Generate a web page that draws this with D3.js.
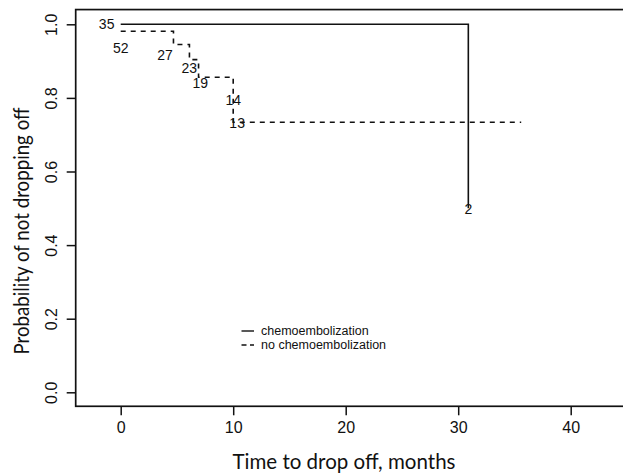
<!DOCTYPE html>
<html>
<head>
<meta charset="utf-8">
<script src="https://cdn.jsdelivr.net/npm/d3@7"></script>
<style>
  body { margin: 0; background: #fff; }
  svg { display: block; }
</style>
</head>
<body>
<svg id="chart" width="623" height="473"></svg>
<script>
// ---- data ----
const chemoTimes = [0, 30.9, 30.9];
const chemoSurv = [1.0, 1.0, 0.5];

const noChemoTimes = [0, 4.69, 6.11, 6.92, 10.0, 10.0, 35.6];
const noChemoSurv = [0.981, 0.945, 0.904, 0.856, 0.797, 0.734, 0.734];

const riskLabels = ["35", "52", "27", "23", "19", "14", "13", "2"];
const riskLabelTimes = [-1.25, 0.0, 3.94, 6.09, 7.07, 10.0, 10.35, 30.9];
const riskLabelSurv = [1.0, 0.935, 0.917, 0.881, 0.841, 0.794, 0.733, 0.498];

const xTicks = [0, 10, 20, 30, 40];
const yTicks = [0.0, 0.2, 0.4, 0.6, 0.8, 1.0];
const legendLabels = ["chemoembolization", "no chemoembolization"];
const xTitle = "Time to drop off, months";
const yTitle = "Probability of not dropping off";

// ---- scales ----
const x = d3.scaleLinear().domain([0, 40]).range([120.7, 570.7]);
const y = d3.scaleLinear().domain([0, 1]).range([392.3, 24.3]);
const xLeft = -4.0, yBottom = -0.038, yTop = 1.04;

const svg = d3.select("#chart");
const ink = "#111";

// plot box
svg.append("rect")
  .attr("x", x(xLeft)).attr("y", y(yTop))
  .attr("width", 640 - x(xLeft)).attr("height", y(yBottom) - y(yTop))
  .attr("fill", "none").attr("stroke", ink).attr("stroke-width", 1.7);

// axes
const xAxis = d3.axisBottom(x).tickValues(xTicks).tickSize(9).tickPadding(6).tickFormat(d3.format("d"));
const gx = svg.append("g").attr("transform", `translate(0,${y(yBottom)})`).call(xAxis);
gx.select(".domain").remove();
gx.selectAll("line").attr("stroke", ink).attr("stroke-width", 1.5);
gx.selectAll("text").attr("font-family", "Liberation Sans, Arial, sans-serif")
  .attr("font-size", 16).attr("fill", ink);

const yAxis = d3.axisLeft(y).tickValues(yTicks).tickSize(9).tickFormat(d3.format(".1f"));
const gy = svg.append("g").attr("transform", `translate(${x(xLeft)},0)`).call(yAxis);
gy.select(".domain").remove();
gy.selectAll("line").attr("stroke", ink).attr("stroke-width", 1.5);
gy.selectAll("text")
  .attr("font-family", "Liberation Sans, Arial, sans-serif")
  .attr("font-size", 16).attr("fill", ink)
  .attr("text-anchor", "middle")
  .attr("x", 0).attr("dy", 0)
  .attr("transform", "translate(-19,0) rotate(-90)");

// axis titles
svg.append("text").text(xTitle)
  .attr("x", 344).attr("y", 469)
  .attr("text-anchor", "middle")
  .attr("textLength", 223).attr("lengthAdjust", "spacingAndGlyphs")
  .attr("font-family", "Lato, 'Open Sans', sans-serif")
  .attr("font-size", 21).attr("fill", ink);

svg.append("text").text(yTitle)
  .attr("transform", "translate(29,231) rotate(-90)")
  .attr("text-anchor", "middle")
  .attr("textLength", 247).attr("lengthAdjust", "spacingAndGlyphs")
  .attr("font-family", "Lato, 'Open Sans', sans-serif")
  .attr("font-size", 21).attr("fill", ink);

// curves
const step = d3.line().x(d => x(d[0])).y(d => y(d[1])).curve(d3.curveStepAfter);
const chemoPts = chemoTimes.map((t, i) => [t, chemoSurv[i]]);
const noChemoPts = noChemoTimes.map((t, i) => [t, noChemoSurv[i]]);

svg.append("path").attr("d", step(chemoPts))
  .attr("fill", "none").attr("stroke", ink).attr("stroke-width", 1.6);
svg.append("path").attr("d", step(noChemoPts))
  .attr("fill", "none").attr("stroke", ink).attr("stroke-width", 1.6)
  .attr("stroke-dasharray", "5,5");

// number-at-risk labels
svg.append("g").selectAll("text").data(riskLabels).join("text")
  .text(d => d)
  .attr("x", (d, i) => x(riskLabelTimes[i]))
  .attr("y", (d, i) => y(riskLabelSurv[i]))
  .attr("dy", "0.36em")
  .attr("text-anchor", "middle")
  .attr("font-family", "Liberation Sans, Arial, sans-serif")
  .attr("font-size", 14).attr("fill", ink);

// legend
const legX0 = 241.5, legX1 = 254, legTextX = 261, legY0 = 331, legDy = 14;
const leg = svg.append("g");
legendLabels.forEach((lab, i) => {
  const ly = legY0 + i * legDy;
  leg.append("line").attr("x1", legX0).attr("x2", legX1).attr("y1", ly).attr("y2", ly)
    .attr("stroke", ink).attr("stroke-width", 1.4)
    .attr("stroke-dasharray", i === 1 ? "5,3.5" : null);
  leg.append("text").text(lab).attr("x", legTextX).attr("y", ly).attr("dy", "0.35em")
    .attr("font-family", "Liberation Sans, Arial, sans-serif")
    .attr("font-size", 12.5).attr("fill", ink);
});
</script>
</body>
</html>
